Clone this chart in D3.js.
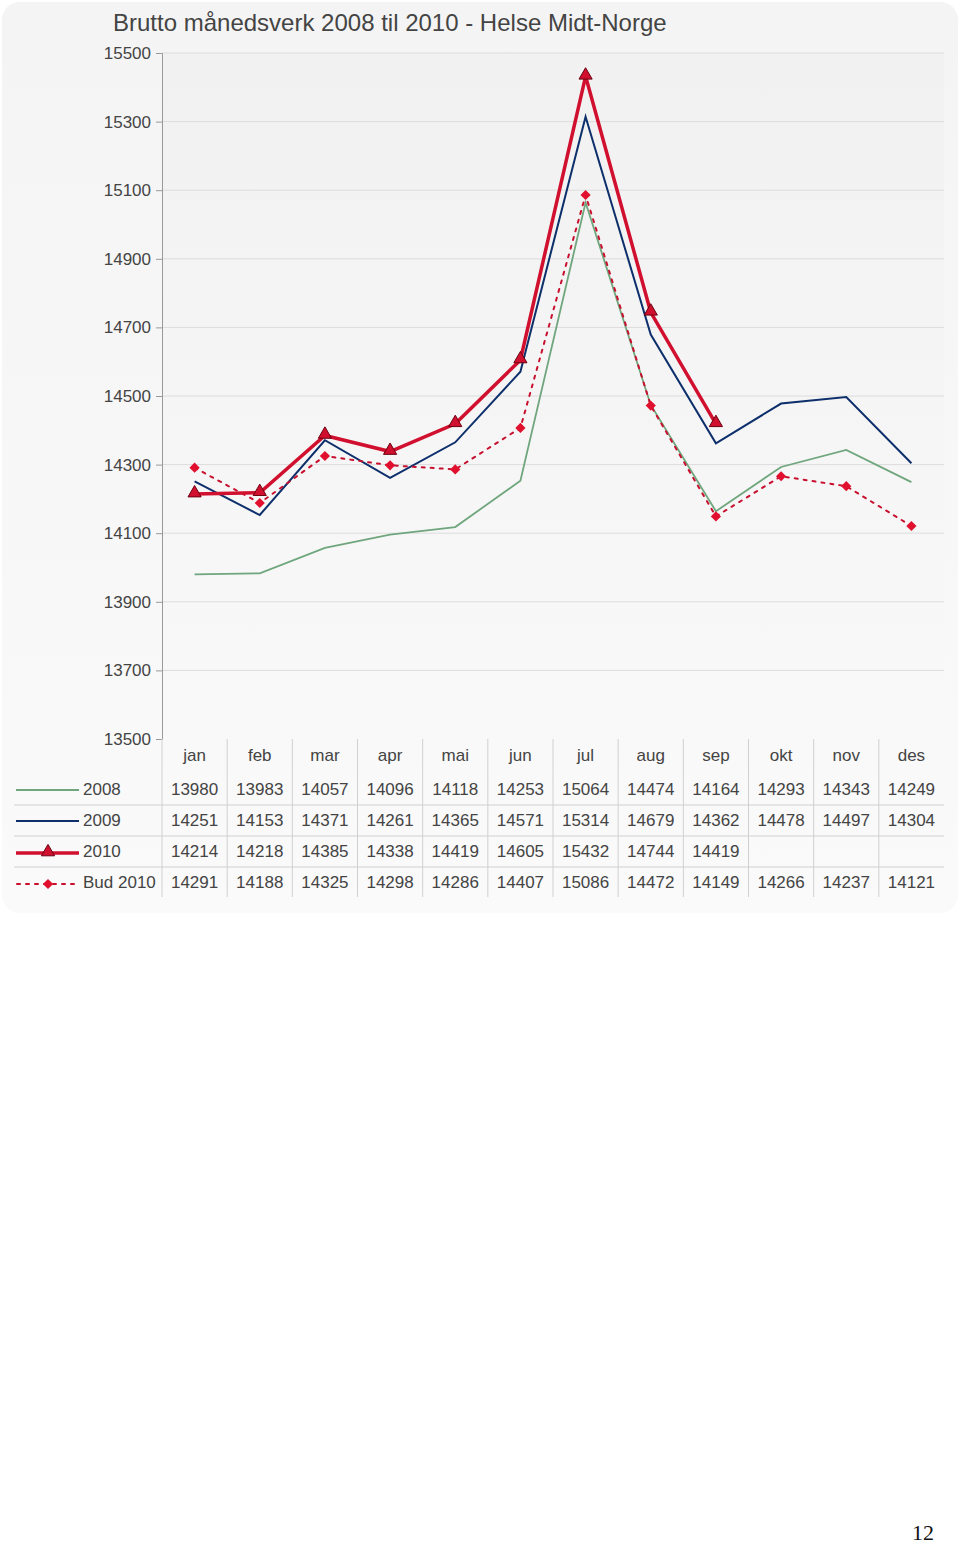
<!DOCTYPE html>
<html><head><meta charset="utf-8">
<script src="https://cdn.jsdelivr.net/npm/d3@7"></script>
<style>body{margin:0;background:#fff;}svg{display:block;}</style>
</head><body>
<script>
const months = ["jan","feb","mar","apr","mai","jun","jul","aug","sep","okt","nov","des"];
const s2008 = [13980,13983,14057,14096,14118,14253,15064,14474,14164,14293,14343,14249];
const s2009 = [14251,14153,14371,14261,14365,14571,15314,14679,14362,14478,14497,14304];
const s2010 = [14214,14218,14385,14338,14419,14605,15432,14744,14419,null,null,null];
const bud2010 = [14291,14188,14325,14298,14286,14407,15086,14472,14149,14266,14237,14121];
const yTicks = [13500,13700,13900,14100,14300,14500,14700,14900,15100,15300,15500];
const seriesNames = ["2008","2009","2010","Bud 2010"];

const W=960,H=1544;
const svg=d3.select("body").append("svg").attr("width",W).attr("height",H);
const defs=svg.append("defs");
const g1=defs.append("linearGradient").attr("id","card").attr("x1",0).attr("y1",0).attr("x2",0).attr("y2",1);
g1.append("stop").attr("offset","0%").attr("stop-color","#f4f4f4");
g1.append("stop").attr("offset","100%").attr("stop-color","#fafafa");
const g2=defs.append("linearGradient").attr("id","plot").attr("x1",0).attr("y1",0).attr("x2",0).attr("y2",1);
g2.append("stop").attr("offset","0%").attr("stop-color","#f1f1f1");
g2.append("stop").attr("offset","100%").attr("stop-color","#f9f9f9");

svg.append("rect").attr("x",2).attr("y",2).attr("width",956).attr("height",911).attr("rx",18).attr("fill","url(#card)");

const L=162,R=944,T=53,B=739;
const x=d3.scaleBand().domain(months).range([L,R]);
const y=d3.scaleLinear().domain([13500,15500]).range([B,T]);
const cx=m=>x(m)+x.bandwidth()/2;

svg.append("rect").attr("x",L).attr("y",T).attr("width",R-L).attr("height",B-T).attr("fill","url(#plot)");
svg.append("g").selectAll("line").data(yTicks.slice(1)).join("line")
  .attr("x1",L).attr("x2",R).attr("y1",d=>y(d)).attr("y2",d=>y(d)).attr("stroke","#dcdcdc").attr("stroke-width",1);

const yAxis=svg.append("g").attr("transform",`translate(${L},0)`).call(d3.axisLeft(y).tickValues(yTicks).tickSize(6).tickFormat(d3.format("d")));
yAxis.select(".domain").attr("stroke","#999");
yAxis.selectAll(".tick line").attr("stroke","#999");
yAxis.selectAll("text").attr("font-family","Liberation Sans, Arial, sans-serif").attr("font-size",17).attr("fill","#444").attr("x",-11);

svg.append("text").attr("x",113).attr("y",31).text("Brutto månedsverk 2008 til 2010 - Helse Midt-Norge")
  .attr("font-family","Liberation Sans, Arial, sans-serif").attr("font-size",24).attr("fill","#444");

const line=d3.line().defined(d=>d.v!=null).x(d=>cx(d.m)).y(d=>y(d.v));
const toPts=arr=>arr.map((v,i)=>({m:months[i],v}));
svg.append("path").datum(toPts(s2008)).attr("d",line).attr("fill","none").attr("stroke","#6fa67d").attr("stroke-width",1.8);
svg.append("path").datum(toPts(s2009)).attr("d",line).attr("fill","none").attr("stroke","#0d2f6b").attr("stroke-width",2);
svg.append("path").datum(toPts(bud2010)).attr("d",line).attr("fill","none").attr("stroke","#c8102e").attr("stroke-width",2).attr("stroke-dasharray","3,6").attr("stroke-linecap","round");
svg.append("path").datum(toPts(s2010)).attr("d",line).attr("fill","none").attr("stroke","#d0102e").attr("stroke-width",3.5);

const tri=d3.symbol().type(d3.symbolTriangle).size(75);
const dia=d3.symbol().type(d3.symbolSquare).size(52);
svg.append("g").selectAll("path").data(toPts(bud2010)).join("path")
  .attr("d",dia).attr("transform",d=>`translate(${cx(d.m)},${y(d.v)}) rotate(45)`).attr("fill","#e0102e");
svg.append("g").selectAll("path").data(toPts(s2010).filter(d=>d.v!=null)).join("path")
  .attr("d",tri).attr("transform",d=>`translate(${cx(d.m)},${y(d.v)-1})`).attr("fill","#d0102e").attr("stroke","#6b0010").attr("stroke-width",1);

// data table
const tf="Liberation Sans, Arial, sans-serif";
const rowsY=[789,820,851,882];
const tbl=svg.append("g");
tbl.selectAll("line.v").data(months.slice(1)).join("line").attr("class","v")
  .attr("x1",d=>x(d)).attr("x2",d=>x(d)).attr("y1",B).attr("y2",897).attr("stroke","#d0d0d0");
tbl.append("line").attr("x1",L).attr("x2",L).attr("y1",B).attr("y2",897).attr("stroke","#d0d0d0");
[805,836,867].forEach(yy=>tbl.append("line").attr("x1",14).attr("x2",R).attr("y1",yy).attr("y2",yy).attr("stroke","#d0d0d0"));
tbl.selectAll("text.h").data(months).join("text").attr("class","h")
  .attr("x",d=>cx(d)).attr("y",761).attr("text-anchor","middle").text(d=>d)
  .attr("font-family",tf).attr("font-size",17).attr("fill","#444");
const allSeries=[s2008,s2009,s2010,bud2010];
allSeries.forEach((arr,ri)=>{
  tbl.append("g").selectAll("text").data(arr.map((v,i)=>({m:months[i],v})).filter(d=>d.v!=null)).join("text")
    .attr("x",d=>cx(d.m)).attr("y",rowsY[ri]+6).attr("text-anchor","middle").text(d=>d.v)
    .attr("font-family",tf).attr("font-size",17).attr("fill","#444");
  tbl.append("text").attr("x",83).attr("y",rowsY[ri]+6).text(seriesNames[ri])
    .attr("font-family",tf).attr("font-size",17).attr("fill","#444");
});
tbl.append("line").attr("x1",16).attr("x2",79).attr("y1",790).attr("y2",790).attr("stroke","#6fa67d").attr("stroke-width",1.8);
tbl.append("line").attr("x1",16).attr("x2",79).attr("y1",821).attr("y2",821).attr("stroke","#0d2f6b").attr("stroke-width",2);
tbl.append("line").attr("x1",16).attr("x2",79).attr("y1",853).attr("y2",853).attr("stroke","#d0102e").attr("stroke-width",3.5);
tbl.append("path").attr("d",tri).attr("transform","translate(48,852)").attr("fill","#d0102e").attr("stroke","#6b0010").attr("stroke-width",1);
tbl.append("line").attr("x1",17).attr("x2",79).attr("y1",884).attr("y2",884).attr("stroke","#c8102e").attr("stroke-width",2).attr("stroke-dasharray","3,6").attr("stroke-linecap","round");
tbl.append("path").attr("d",dia).attr("transform","translate(48,884) rotate(45)").attr("fill","#e0102e");

svg.append("text").attr("x",934).attr("y",1540).text("12").attr("text-anchor","end")
  .attr("font-family","Liberation Serif, Times New Roman, serif").attr("font-size",22).attr("fill","#111");
</script>
</body></html>
